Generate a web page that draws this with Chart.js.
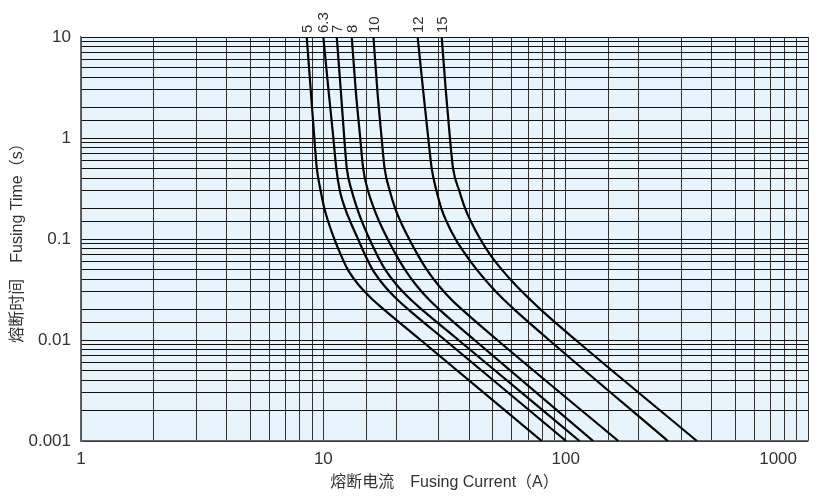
<!DOCTYPE html>
<html><head><meta charset="utf-8">
<script src="https://cdn.jsdelivr.net/npm/chart.js@4"></script>
<style>html,body{margin:0;padding:0;background:#fff}#wrap{width:827px;height:498px;position:relative}</style>
</head><body><div id="wrap"><canvas id="c" width="827" height="498"></canvas></div>
<script>
// Fusing time (s) at which each current is read
const times = [10, 3, 1, 0.5, 0.3, 0.2, 0.15, 0.1, 0.07, 0.05, 0.035, 0.025, 0.02, 0.01, 0.001];
// Rated currents (curve labels)
const ratings = ['5', '6.3', '7', '8', '10', '12', '15'];
// Fusing current (A) for each curve at the times above
const current5  = [8.54, 8.87, 9.18, 9.4, 9.75, 10.1, 10.46, 11.1, 11.8, 12.6, 14.0, 16.0, 17.8, 25.2, 79.7];
const current63 = [10.0, 10.5, 11.0, 11.31, 11.7, 12.3, 12.9, 13.9, 14.85, 15.94, 17.74, 20.23, 22.46, 31.77, 100.4];
const current7  = [11.36, 11.8, 12.2, 12.5, 13.1, 13.8, 14.41, 15.5, 16.65, 17.98, 20.09, 22.98, 25.52, 36.09, 114.1];
const current8  = [13.1, 13.6, 14.2, 14.6, 15.29, 16.18, 16.99, 18.42, 19.93, 21.68, 24.13, 27.33, 30.15, 42.04, 129.9];
const current10 = [16.1, 16.7, 17.4, 17.9, 18.8, 19.8, 20.8, 22.6, 24.5, 26.68, 29.8, 33.8, 37.4, 52.2, 165];
const current12 = [24.5, 25.8, 27.1, 28.0, 29.3, 30.7, 32.2, 35.1, 38.65, 42.9, 48.6, 55.6, 61.45, 85.4, 264];
const current15 = [30.8, 32.0, 33.3, 34.3, 36.4, 38.5, 40.6, 44.4, 48.8, 54.4, 62.1, 71.5, 78.9, 110, 348];
// Axis ticks
const xTickValues = [1, 10, 100, 1000];
const xTickLabels = ['1', '10', '100', '1000'];
const yTickValues = [0.001, 0.01, 0.1, 1, 10];
const yTickLabels = ['0.001', '0.01', '0.1', '1', '10'];
const xTitle = '熔断电流\u3000Fusing Current（A）';
const yTitle = '熔断时间\u3000Fusing Time（s）';

const curves = [current5, current63, current7, current8, current10, current12, current15];
const FONT = "'Liberation Sans', 'Noto Sans CJK SC', Arial, sans-serif";

const datasets = curves.map((arr, i) => ({
  label: ratings[i],
  data: arr.map((c, j) => ({x: c, y: times[j]})),
  showLine: true,
  borderColor: '#000',
  borderWidth: 2.2,
  pointRadius: 0,
  cubicInterpolationMode: 'monotone',
  fill: false
}));

function findLabel(v, vals, labels) {
  for (let i = 0; i < vals.length; i++) {
    if (Math.abs(v - vals[i]) / vals[i] < 1e-6) return labels[i];
  }
  return '';
}

const bgPlugin = {
  id: 'bg',
  beforeDraw(chart) {
    const {ctx, chartArea: a} = chart;
    ctx.save();
    ctx.fillStyle = '#e8f4fc';
    ctx.fillRect(a.left, a.top, a.right - a.left, a.bottom - a.top);
    ctx.restore();
  }
};

const labelPlugin = {
  id: 'curveLabels',
  afterDraw(chart) {
    const {ctx, chartArea: a} = chart;
    const xs = chart.scales.x;
    ctx.save();
    ctx.fillStyle = '#333';
    ctx.font = '15px ' + FONT;
    ctx.textAlign = 'left';
    ctx.textBaseline = 'middle';
    curves.forEach((arr, i) => {
      const px = xs.getPixelForValue(arr[0]) + 1;
      ctx.save();
      ctx.translate(px, a.top - 4);
      ctx.rotate(-Math.PI / 2);
      ctx.fillText(ratings[i], 0, 0);
      ctx.restore();
    });
    // x-axis tick labels (last one kept inside the canvas like the reference)
    ctx.font = '17px ' + FONT;
    ctx.textAlign = 'center';
    ctx.textBaseline = 'middle';
    xTickValues.forEach((v, i) => {
      const w = ctx.measureText(xTickLabels[i]).width;
      let px = xs.getPixelForValue(v);
      px = Math.min(px, chart.width - 30 - w / 2);
      ctx.fillText(xTickLabels[i], px, a.bottom + 18);
    });
    ctx.restore();
  }
};

new Chart(document.getElementById('c'), {
  type: 'scatter',
  data: {datasets},
  plugins: [bgPlugin, labelPlugin],
  options: {
    responsive: false,
    animation: false,
    devicePixelRatio: 1,
    layout: {padding: {top: 37, right: 19, left: 0, bottom: 0}},
    plugins: {legend: {display: false}, tooltip: {enabled: false}},
    scales: {
      x: {
        type: 'logarithmic',
        min: 1, max: 1000,
        afterFit(s) { s.height = 57; s.paddingLeft = 0; s.paddingRight = 0; },
        grid: {color: '#333', lineWidth: 1, drawTicks: false},
        border: {color: '#666', width: 1.5},
        ticks: {
          autoSkip: false, maxRotation: 0, padding: 8,
          color: '#333', font: {family: FONT, size: 17},
          callback: () => ''
        },
        title: {display: true, text: xTitle, color: '#333',
          font: {family: FONT, size: 16}, padding: {top: 0, bottom: 6}}
      },
      y: {
        type: 'logarithmic',
        min: 0.001, max: 10,
        afterFit(s) { s.width = 81; s.paddingTop = 0; s.paddingBottom = 0; },
        grid: {color: '#111', lineWidth: 1, drawTicks: false},
        border: {color: '#666', width: 1.5},
        ticks: {
          autoSkip: false, padding: 10,
          color: '#333', font: {family: FONT, size: 17},
          callback: (v) => findLabel(v, yTickValues, yTickLabels)
        },
        title: {display: true, text: yTitle, color: '#333',
          font: {family: FONT, size: 16}, padding: {top: 8, bottom: 0}}
      }
    }
  }
});
</script></body></html>
